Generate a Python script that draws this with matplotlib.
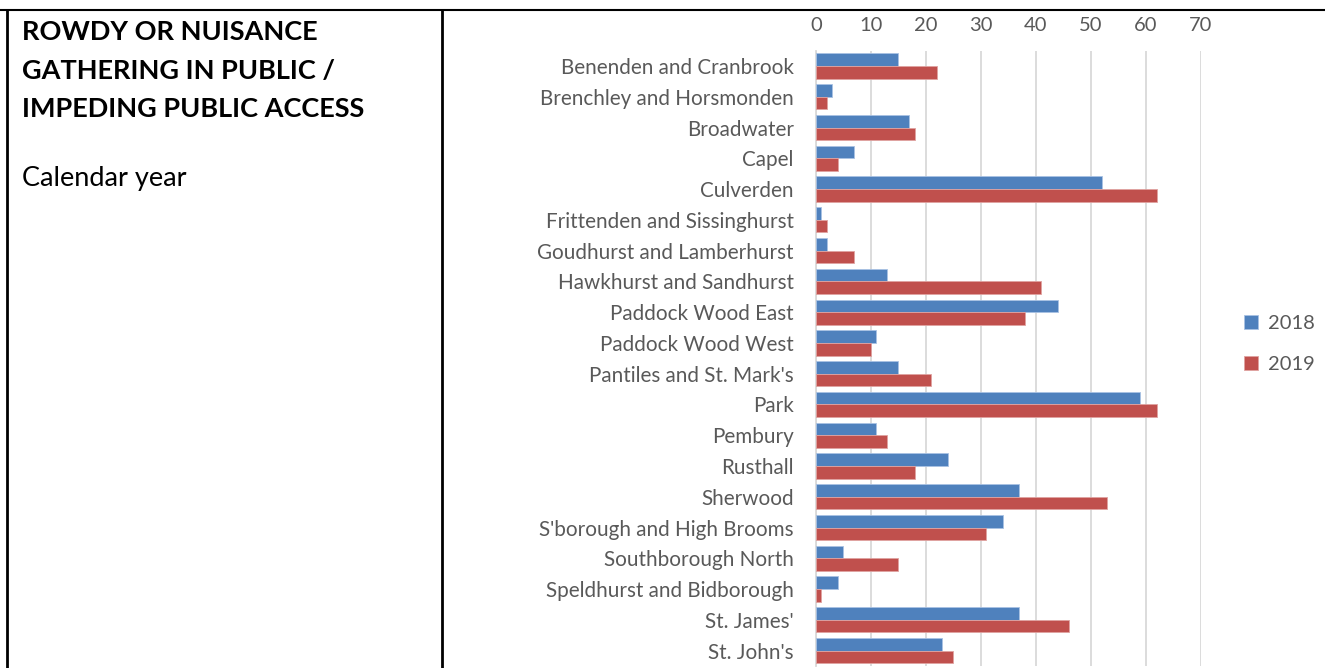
import numpy as np
import matplotlib
matplotlib.use("Agg")
import matplotlib.pyplot as plt
from matplotlib.lines import Line2D

plt.rcParams['font.family'] = ['Lato', 'DejaVu Sans']

areas = ["Benenden and Cranbrook", "Brenchley and Horsmonden", "Broadwater", "Capel",
         "Culverden", "Frittenden and Sissinghurst", "Goudhurst and Lamberhurst",
         "Hawkhurst and Sandhurst", "Paddock Wood East", "Paddock Wood West",
         "Pantiles and St. Mark's", "Park", "Pembury", "Rusthall", "Sherwood",
         "S'borough and High Brooms", "Southborough North", "Speldhurst and Bidborough",
         "St. James'", "St. John's"]
y2018 = [15, 3, 17, 7, 52, 1, 2, 13, 44, 11, 15, 59, 11, 24, 37, 34, 5, 4, 37, 23]
y2019 = [22, 2, 18, 4, 62, 2, 7, 41, 38, 10, 21, 62, 13, 18, 53, 31, 15, 1, 46, 25]
xticks = [0, 10, 20, 30, 40, 50, 60, 70]

blue = "#4f81bd"
red = "#c0504d"
grey = "#595959"

W, H = 1325, 668
fig = plt.figure(figsize=(W / 100, H / 100), dpi=100)

# chart area
ax = fig.add_axes([816 / W, 2 / H, (1201 - 816) / W, (666 - 50.6) / H])
pos = np.arange(len(areas))
bh = 0.41
ax.barh(pos - bh / 2, y2018, height=bh, color=blue, edgecolor="#a9c2e3", linewidth=0.6, label="2018", zorder=3)
ax.barh(pos + bh / 2, y2019, height=bh, color=red, edgecolor="#e0a3a1", linewidth=0.6, label="2019", zorder=3)
ax.set_ylim(len(areas) - 0.5, -0.5)
ax.set_xlim(0, 70)
ax.set_xticks(xticks)
ax.set_yticks(pos)
ax.set_yticklabels(areas)
ax.xaxis.tick_top()
ax.tick_params(axis="x", length=0, pad=12, labelsize=14.5, labelcolor=grey)
ax.tick_params(axis="y", length=0, pad=16, labelsize=14.9, labelcolor=grey)
ax.grid(axis="x", color="#d9d9d9", linewidth=1.3, zorder=0)
for s in ["top", "right", "bottom"]:
    ax.spines[s].set_visible(False)
ax.spines["left"].set_color("#d9d9d9")
ax.spines["left"].set_linewidth(1.3)

ax.legend(loc="center left", bbox_to_anchor=(1226 / W, (H - 344) / H), bbox_transform=fig.transFigure,
          frameon=False, fontsize=14.5, labelcolor=grey, handlelength=0.7, handleheight=0.7,
          handletextpad=0.5, labelspacing=1.15)

# table border and left cell text
fig.add_artist(Line2D([0, 1], [1 - 10 / H] * 2, color="black", linewidth=1.5))
fig.add_artist(Line2D([7 / W] * 2, [0, 1 - 10 / H], color="black", linewidth=2))
fig.add_artist(Line2D([442 / W] * 2, [0, 1 - 10 / H], color="black", linewidth=2))

title_lines = ["ROWDY OR NUISANCE", "GATHERING IN PUBLIC /", "IMPEDING PUBLIC ACCESS"]
for i, t in enumerate(title_lines):
    fig.text(22 / W, 1 - (32 + 38.5 * i) / H, t, fontsize=19.5, fontweight="bold",
             va="center", ha="left", color="black")
fig.text(22 / W, 1 - 178 / H, "Calendar year", fontsize=19.5, va="center", ha="left", color="black")

fig.savefig("out.png", dpi=100)
